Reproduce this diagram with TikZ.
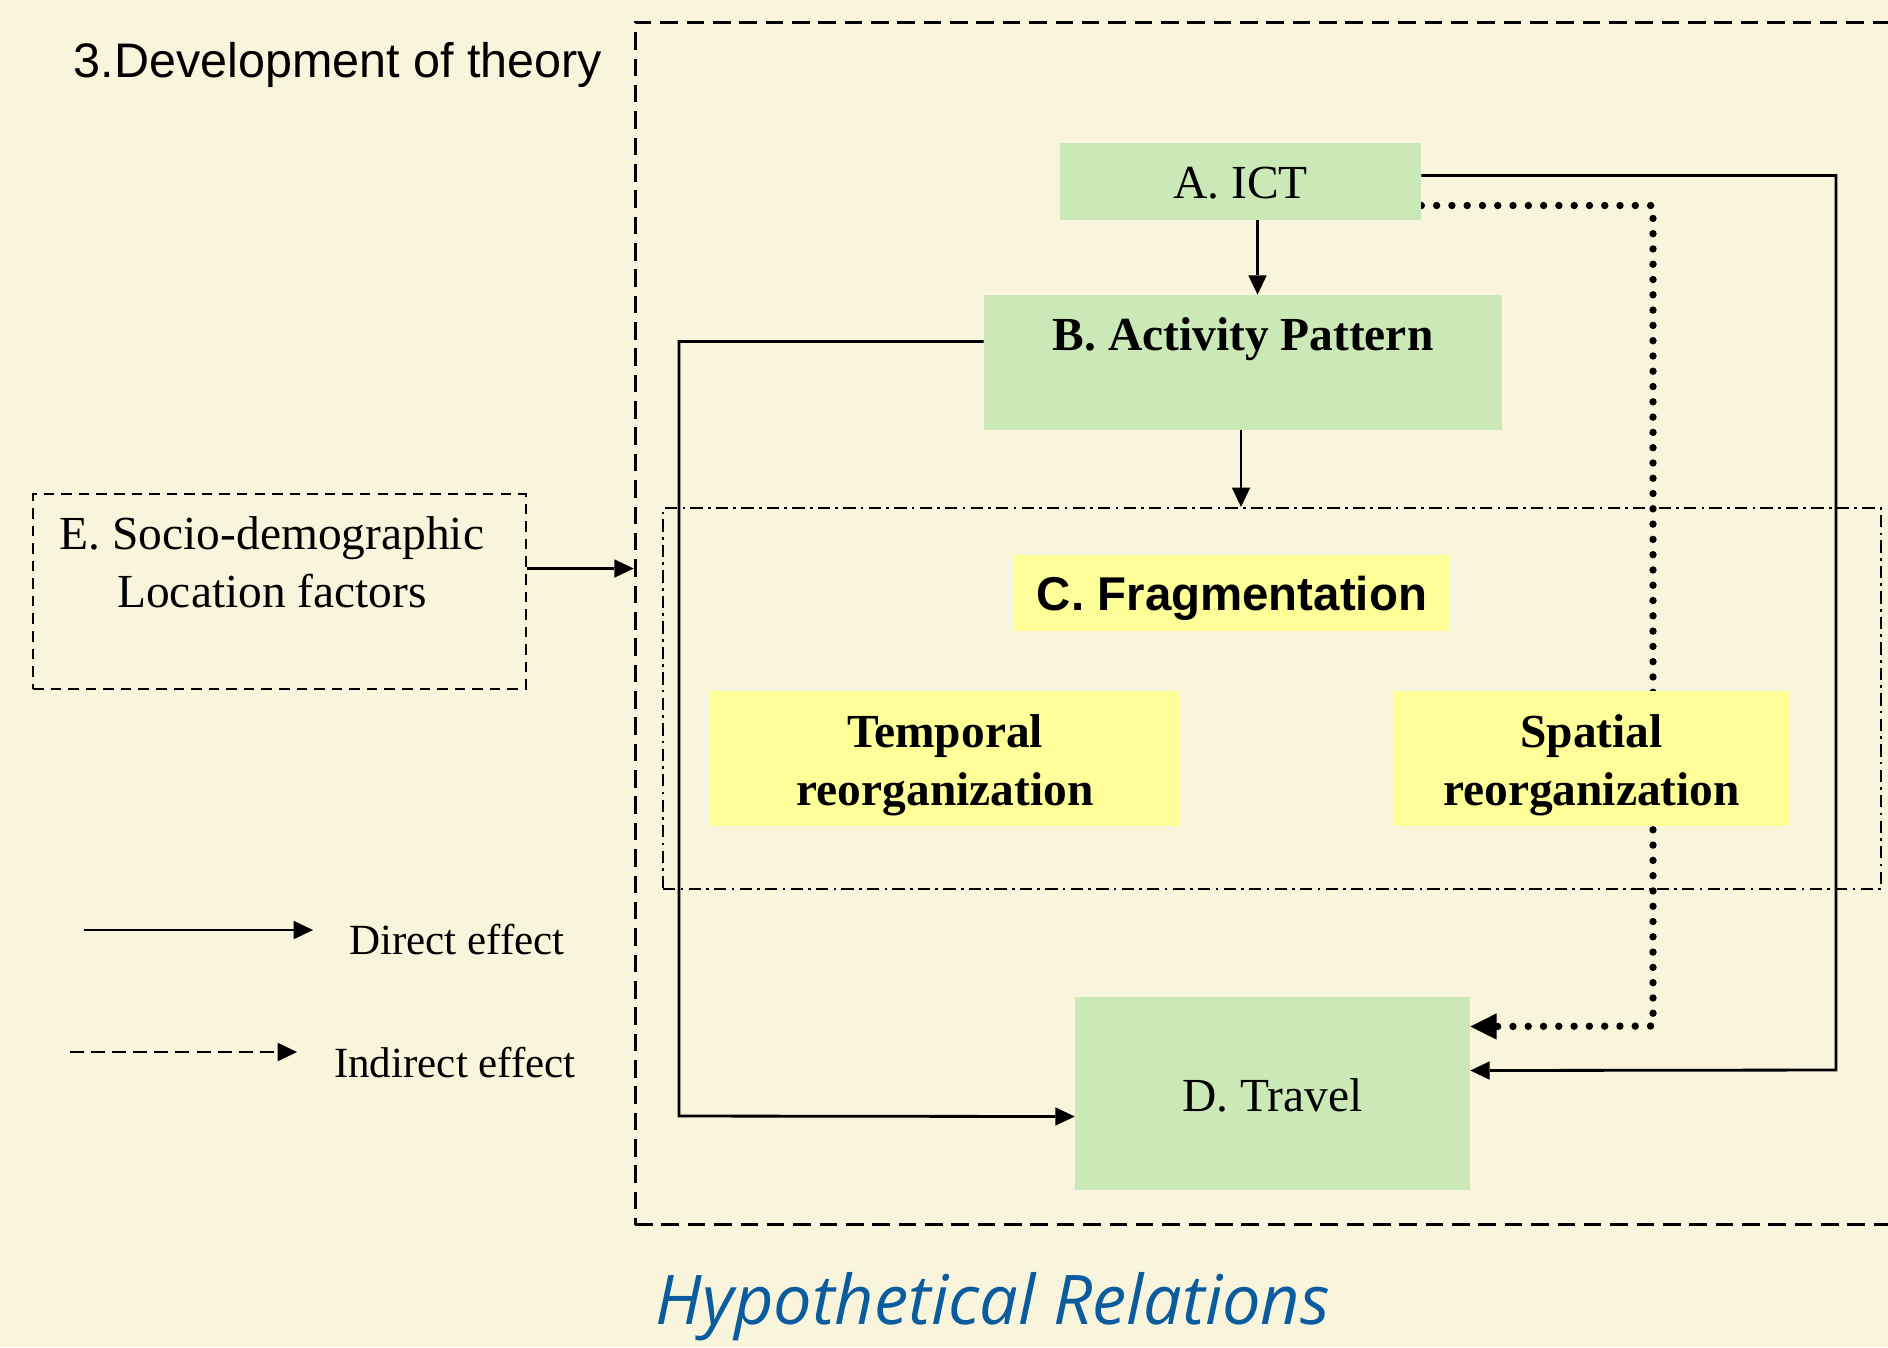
\documentclass[tikz,border=0pt]{standalone}
\usepackage{fontspec}
\setmainfont{Liberation Serif}
\newfontfamily\arialf{Liberation Sans}
\newfontfamily\opensans{Open Sans}
\usetikzlibrary{arrows.meta,calc}
\definecolor{bgc}{HTML}{F9F4DC}
\definecolor{grn}{HTML}{CBE8B7}
\definecolor{ylw}{HTML}{FFFF99}
\definecolor{blu}{HTML}{0B5C9E}
\pgfdeclarelayer{bglayer}
\pgfdeclarelayer{connlayer}
\pgfsetlayers{bglayer,connlayer,main}
\tikzset{
  box/.style={rectangle, inner sep=0pt, draw=none},
  greenbox/.style={box, fill=grn},
  yellowbox/.style={box, fill=ylw},
  lbl/.style={font=\fontsize{27}{33}\selectfont, align=center, inner sep=0pt},
  leglbl/.style={font=\fontsize{24.5}{29}\selectfont, inner sep=0pt},
  arr/.style={line width=1.6pt, -{Triangle[length=11pt,width=10.5pt,line width=0pt]}},
  dotarr/.style={line width=4.2pt, line cap=round, dash pattern=on 0pt off 8.7pt,
     -{Triangle[length=15pt,width=15pt,line width=0pt]}},
  framebox/.style={rectangle, draw, line width=1.7pt, dash pattern=on 10pt off 5pt, inner sep=0pt},
  ebox/.style={rectangle, draw, line width=1.6pt, dash pattern=on 6pt off 4pt, inner sep=0pt},
  regionbox/.style={rectangle, draw, line width=1.3pt, dash pattern=on 7pt off 3pt on 1.5pt off 3pt, inner sep=0pt},
}
\begin{document}
\begin{tikzpicture}[x=0.02cm,y=-0.02cm]
\useasboundingbox (0,0) rectangle (1888,1347);
\clip (0,0) rectangle (1888,1347);
\begin{pgfonlayer}{bglayer}
\fill[bgc] (0,0) rectangle (1888,1347);
\end{pgfonlayer}

% frames
\node[framebox, minimum width=25.3cm, minimum height=24.06cm] (frame) at (1267.5,623.5) {};
\node[regionbox, minimum width=24.36cm, minimum height=7.62cm] (Creg) at (1272,698.5) {};

% title
\node[font=\arialf\fontsize{27.6}{32}\selectfont, inner sep=0pt] (title) at (338,65) {3.Development of theory};

% boxes
\node[greenbox, minimum width=7.22cm, minimum height=1.54cm] (A) at (1240.5,181.5) {};
\node[lbl] (Atxt) at (1240.5,183) {A. ICT};
\node[greenbox, minimum width=10.36cm, minimum height=2.7cm] (B) at (1243,362.5) {};
\node[lbl, font=\fontsize{27}{33}\selectfont\bfseries] (Btxt) at (1243,339) {B. Activity Pattern};
\node[yellowbox, minimum width=8.72cm, minimum height=1.52cm] (C) at (1232,593) {};
\node[lbl, font=\arialf\fontsize{27}{33}\selectfont\bfseries] (Ctxt) at (1232,598) {C. Fragmentation};
\node[yellowbox, minimum width=9.4cm, minimum height=2.7cm] (T) at (945,758.5) {};
\node[lbl, font=\fontsize{27}{33}\selectfont\bfseries] (Ttxt) at (945,765) {Temporal\\reorganization};
\node[yellowbox, minimum width=7.9cm, minimum height=2.7cm] (S) at (1591.5,758.5) {};
\node[lbl, font=\fontsize{27}{33}\selectfont\bfseries] (Stxt) at (1591.5,765) {Spatial\\reorganization};
\node[greenbox, minimum width=7.9cm, minimum height=3.86cm] (D) at (1272.5,1093.5) {};
\node[lbl] (Dtxt) at (1272.5,1095) {D. Travel};
\node[ebox, minimum width=9.86cm, minimum height=3.9cm] (E) at (279.5,591.5) {};
\node[lbl] (Etxt) at (272,562) {E. Socio-demographic\\Location factors};

% connectors
\begin{pgfonlayer}{connlayer}
\coordinate (a1) at ($(A.south)+(17,0)$);
\draw[arr] (a1) -- (a1 |- B.north);
\coordinate (b1) at ($(B.south)+(-2,0)$);
\draw[arr] (b1) -- (b1 |- Creg.north);
\coordinate (e1) at ($(E.east)+(0,-23)$);
\draw[arr] (e1) -- (e1 -| frame.west);
\coordinate (Rs) at (1836,1070);
\draw[arr] ($(A.east)+(0,-6)$) -| (Rs) -- ($(D.east)+(0,-23)$);
\coordinate (Rd) at (1653,1026);
\draw[dotarr] ($(A.east)+(0,24)$) -| (Rd) -- ($(D.east)+(0,-67)$);
\coordinate (Lb) at (679,1116);
\draw[arr] ($(B.west)+(0,-21)$) -| (Lb) -- ($(D.west)+(0,23)$);
\end{pgfonlayer}

% legend
\coordinate (l1s) at (84,930);
\coordinate (l1e) at (313,930);
\draw[arr] (l1s) -- (l1e);
\node[leglbl] (l1t) at (457,940) {Direct effect};
\coordinate (l2s) at (70,1052);
\coordinate (l2e) at (297,1052);
\draw[arr, dash pattern=on 8pt off 4pt] (l2s) -- (l2e);
\node[leglbl] (l2t) at (455,1063) {Indirect effect};

% caption
\node[font=\opensans\itshape\fontsize{39}{44}\selectfont, text=blu, inner sep=0pt] (cap) at (993,1307) {Hypothetical Relations};
\end{tikzpicture}
\end{document}
